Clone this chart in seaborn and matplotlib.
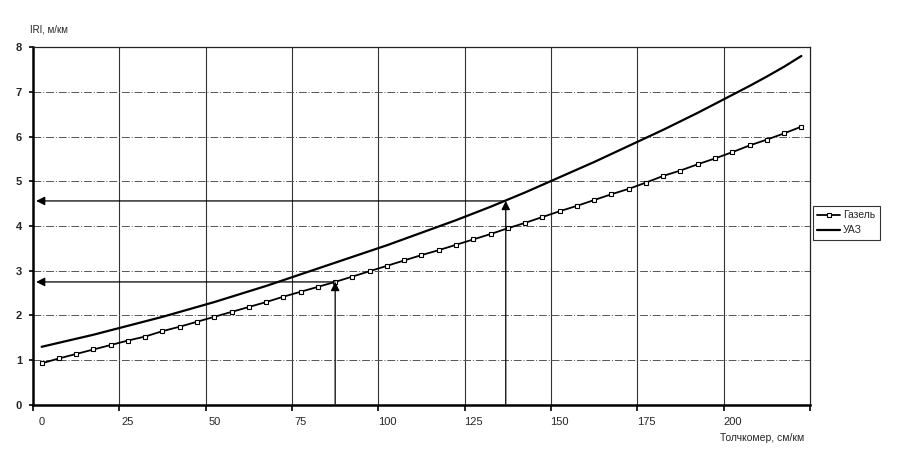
import numpy as np
import pandas as pd
import matplotlib
matplotlib.use("Agg")
import matplotlib.pyplot as plt
import seaborn as sns

# ---- data ----
x_values = list(range(0, 225, 5))
gazel = [0.93, 1.04, 1.14, 1.24, 1.34, 1.44, 1.53, 1.65, 1.75, 1.86,
         1.97, 2.08, 2.19, 2.30, 2.42, 2.53, 2.64, 2.75, 2.87, 2.99,
         3.11, 3.23, 3.35, 3.46, 3.58, 3.70, 3.82, 3.95, 4.07, 4.20,
         4.33, 4.45, 4.58, 4.71, 4.83, 4.97, 5.12, 5.24, 5.38, 5.51,
         5.65, 5.80, 5.93, 6.07, 6.22]
uaz = [1.30, 1.39, 1.48, 1.57, 1.67, 1.77, 1.87, 1.97, 2.08, 2.19,
       2.30, 2.42, 2.54, 2.66, 2.79, 2.92, 3.05, 3.18, 3.31, 3.44,
       3.57, 3.71, 3.85, 3.99, 4.13, 4.28, 4.43, 4.59, 4.75, 4.92,
       5.09, 5.26, 5.43, 5.61, 5.79, 5.97, 6.15, 6.34, 6.53, 6.73,
       6.93, 7.13, 7.34, 7.56, 7.80]
series_names = ["Газель", "УАЗ"]
x_tick_labels = [0, 25, 50, 75, 100, 125, 150, 175, 200]
y_ticks = [0, 1, 2, 3, 4, 5, 6, 7, 8]
arrow_x = [85, 134.4]
arrow_y = [2.75, 4.56]
y_label = "IRI, м/км"
x_label = "Толчкомер, см/км"

sns.set_style("white")
plt.rcParams['font.family'] = ['Liberation Sans', 'DejaVu Sans']

fig = plt.figure(figsize=(8.99, 4.73), dpi=100)
ax = fig.add_axes([0.0367, 0.1438, 0.8643, 0.7568])

df = pd.DataFrame({"x": x_values, "Газель": gazel, "УАЗ": uaz})

sns.lineplot(data=df, x="x", y="Газель", ax=ax, color="black", lw=1.3,
             marker="s", markersize=3.3, markerfacecolor="white",
             markeredgecolor="black", markeredgewidth=0.8,
             label=series_names[0], zorder=5)
sns.lineplot(data=df, x="x", y="УАЗ", ax=ax, color="black", lw=1.6,
             label=series_names[1], zorder=5)

ax.set_xlim(-2.5, 222.5)
ax.set_ylim(0, 8)

# category labels at centres, boundaries as minor ticks/grid
ax.set_xticks(x_tick_labels)
ax.set_xticklabels([str(v) for v in x_tick_labels])
bounds = [v - 2.5 for v in x_tick_labels[1:]] + [-2.5, 222.5]
ax.set_xticks(sorted(bounds), minor=True)
ax.tick_params(axis="x", which="major", length=0, pad=9, labelsize=8)
ax.tick_params(axis="x", which="minor", length=4, width=1.2, color="black",
               direction="out", bottom=True)
ax.set_yticks(y_ticks)
ax.tick_params(axis="y", which="major", length=3, width=1.2, color="black",
               direction="out", left=True, labelsize=8, pad=5)
for lbl in ax.get_yticklabels():
    lbl.set_fontweight("bold")

for b in bounds:
    if -2.5 < b < 222.5:
        ax.axvline(b, color="#333333", lw=0.8, zorder=1)
for yv in y_ticks[1:-1]:
    ax.axhline(yv, color="#555555", lw=0.7, ls=(0, (8, 2, 1, 2)), zorder=1)

for side in ["left", "bottom"]:
    ax.spines[side].set_linewidth(1.8)
    ax.spines[side].set_color("black")
for side in ["top", "right"]:
    ax.spines[side].set_linewidth(0.9)
    ax.spines[side].set_color("#222222")

ax.set_xlabel("")
ax.set_ylabel("")

# arrows
for xa, ya in zip(arrow_x, arrow_y):
    ax.annotate("", xy=(xa, ya), xytext=(xa, 0.02),
                arrowprops=dict(arrowstyle="-|>", color="black", lw=0.9,
                                mutation_scale=13, shrinkA=0, shrinkB=0),
                zorder=6)
    ax.annotate("", xy=(-1.6, ya), xytext=(xa, ya),
                arrowprops=dict(arrowstyle="-|>", color="black", lw=0.9,
                                mutation_scale=13, shrinkA=0, shrinkB=0),
                zorder=6)

fig.text(30 / 899, 1 - 30 / 473, y_label, fontsize=7, ha="left", va="center")
fig.text(720 / 899, 1 - 438 / 473, x_label, fontsize=7.5, ha="left", va="center")

leg = ax.legend(loc="upper left", bbox_to_anchor=(813 / 899, 1 - 206 / 473),
                bbox_transform=fig.transFigure, fontsize=7.5, frameon=True,
                fancybox=False, edgecolor="black", handlelength=2.2,
                borderpad=0.4, labelspacing=0.5, handletextpad=0.3,
                borderaxespad=0)
leg.get_frame().set_linewidth(0.8)

fig.savefig("out.png", dpi=100, facecolor="white")
